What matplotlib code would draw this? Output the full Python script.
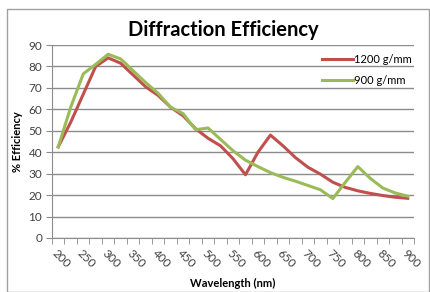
import numpy as np
import matplotlib
matplotlib.use("Agg")
import matplotlib.pyplot as plt
from matplotlib.patches import Rectangle

# wavelength categories (nm)
wavelength = list(range(200, 901, 25))

eff_1200 = [42.5, 54, 67, 80, 84, 81.5, 76, 70.5, 66.5, 61, 57, 51, 46.5, 43, 37, 29.5,
            40, 48, 43, 37.5, 33, 29.8, 26, 23.6, 22, 20.8, 19.8, 19, 18.5]
eff_900 = [42.5, 61, 76.5, 81, 85.7, 83.5, 78, 72.5, 67.5, 61, 58, 50.5, 51.3, 46, 40.7, 36.3,
           33.3, 30.5, 28.3, 26.5, 24.5, 22.5, 18.4, 26, 33.3, 27.8, 23.3, 21, 19.5]

xlabels = [str(w) for w in range(200, 901, 50)]

red = "#C0504D"
green = "#9BBB59"
grid = "#8C8C8C"
txt = "#404040"

plt.rcParams["font.family"] = ["Lato", "DejaVu Sans"]

fig = plt.figure(figsize=(4.30, 2.92), dpi=100)
ax = fig.add_axes([52/430, 1-238/292, (414-52)/430, (238-45)/292])

ax.plot(wavelength, eff_1200, color=red, lw=2.2, label="1200 g/mm", solid_joinstyle="round")
ax.plot(wavelength, eff_900, color=green, lw=2.2, label="900 g/mm", solid_joinstyle="round")

ax.set_xlim(187.5, 912.5)
ax.set_ylim(0, 90)
ax.set_yticks(range(0, 91, 10))
ax.yaxis.grid(True, color=grid, lw=1)
ax.set_axisbelow(True)

ax.set_xticks(range(200, 901, 50))
ax.set_xticklabels(xlabels, rotation=-45, ha="left", va="top", rotation_mode="anchor")
ax.set_xticks(np.arange(187.5, 913, 25), minor=True)
ax.tick_params(axis="x", which="major", length=0, pad=7, labelsize=8.5, labelcolor=txt)
ax.tick_params(axis="x", which="minor", length=4, color=grid, direction="out")
ax.tick_params(axis="y", length=4, color=grid, labelsize=8.5, labelcolor=txt, pad=3)

for s in ["top", "right"]:
    ax.spines[s].set_visible(False)
ax.spines["left"].set_color(grid)
ax.spines["bottom"].set_color(grid)

ax.set_xlabel("Wavelength (nm)", fontsize=8, fontweight="bold", va="center")
ax.xaxis.set_label_coords(0.5, -(283-238)/193)
ax.set_ylabel("% Efficiency", fontsize=8, fontweight="bold", labelpad=4)

fig.text(223/430, 1-30/292, "Diffraction Efficiency", ha="center", va="center",
         fontsize=14.5, fontweight="bold")

ax.legend(loc="upper left", bbox_to_anchor=(316/430, 1-48/292), bbox_transform=fig.transFigure,
          frameon=False, fontsize=8, handlelength=2.8, handletextpad=0.1, labelspacing=0.9,
          borderpad=0)

fig.patches.append(Rectangle((7/430, 0), 422/430, 1-9/292, transform=fig.transFigure,
                             fill=False, edgecolor="#A0A0A0", lw=1))

fig.savefig("out.png", dpi=100)
